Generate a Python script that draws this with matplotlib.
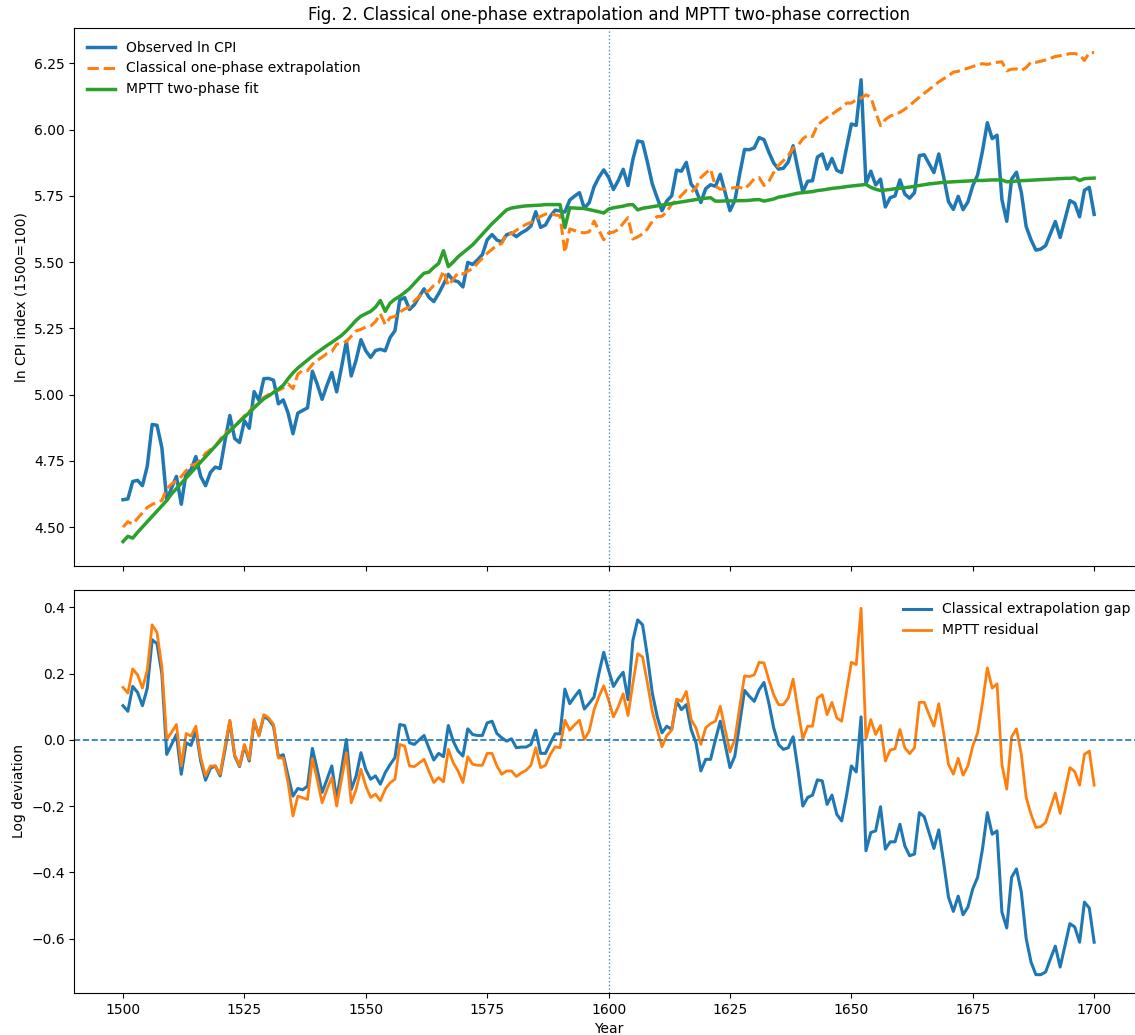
import numpy as np
import matplotlib
matplotlib.use("Agg")
import matplotlib.pyplot as plt

years = np.arange(1500, 1701)

# MPTT two-phase fit (ln CPI)
mptt_fit = [
    4.445, 4.465, 4.458, 4.48, 4.50, 4.52, 4.54, 4.56, 4.58, 4.60,
    4.625, 4.645, 4.665, 4.685, 4.705, 4.725, 4.745, 4.765, 4.785, 4.805,
    4.825, 4.845, 4.862, 4.88, 4.898, 4.915, 4.932, 4.95, 4.967, 4.984,
    4.995, 5.008, 5.02, 5.035, 5.06, 5.082, 5.10, 5.115, 5.13, 5.145,
    5.159, 5.172, 5.185, 5.197, 5.21, 5.223, 5.24, 5.26, 5.28, 5.296,
    5.305, 5.314, 5.33, 5.355, 5.314, 5.345, 5.36, 5.371, 5.385, 5.40,
    5.42, 5.44, 5.458, 5.462, 5.48, 5.495, 5.543, 5.483, 5.50, 5.52,
    5.535, 5.55, 5.565, 5.585, 5.605, 5.625, 5.645, 5.662, 5.68, 5.697,
    5.704, 5.707, 5.71, 5.712, 5.713, 5.714, 5.715, 5.717, 5.717, 5.717,
    5.717, 5.63, 5.705, 5.704, 5.703, 5.702, 5.698, 5.694, 5.69, 5.685,
    5.70, 5.705, 5.708, 5.711, 5.716, 5.717, 5.697, 5.703, 5.706, 5.709,
    5.712, 5.715, 5.718, 5.721, 5.724, 5.727, 5.73, 5.733, 5.736, 5.739,
    5.741, 5.743, 5.73, 5.73, 5.731, 5.731, 5.731, 5.732, 5.732, 5.733,
    5.735, 5.736, 5.73, 5.734, 5.738, 5.745, 5.748, 5.752, 5.756, 5.76,
    5.762, 5.764, 5.766, 5.77, 5.772, 5.775, 5.778, 5.78, 5.782, 5.785,
    5.787, 5.789, 5.791, 5.793, 5.782, 5.775, 5.77, 5.772, 5.774, 5.777,
    5.779, 5.781, 5.783, 5.786, 5.789, 5.792, 5.795, 5.797, 5.799, 5.801,
    5.802, 5.803, 5.804, 5.805, 5.806, 5.807, 5.808, 5.808, 5.809, 5.81,
    5.81, 5.81, 5.803, 5.804, 5.806, 5.807, 5.808, 5.809, 5.81, 5.811,
    5.812, 5.813, 5.814, 5.815, 5.816, 5.816, 5.818, 5.808, 5.815, 5.816,
    5.817,
]

# observed minus classical extrapolation (bottom panel, blue)
gap = [
    0.103, 0.086, 0.161, 0.143, 0.103, 0.156, 0.302, 0.290, 0.200, -0.044,
    -0.014, 0.016, -0.104, -0.009, -0.017, 0.029, -0.064, -0.122, -0.086, -0.079,
    -0.109, -0.030, 0.056, -0.049, -0.081, -0.019, -0.064, 0.056, 0.013, 0.071,
    0.061, 0.041, -0.051, -0.045, -0.11, -0.17, -0.147, -0.151, -0.14, -0.026,
    -0.09, -0.159, -0.12, -0.079, -0.18, -0.09, 0.001, -0.15, -0.11, -0.039,
    -0.09, -0.119, -0.109, -0.134, -0.099, -0.075, -0.054, 0.046, 0.043, -0.009,
    -0.014, 0.0, 0.013, -0.025, -0.061, -0.041, -0.051, 0.043, -0.004, -0.034,
    -0.049, 0.033, 0.016, 0.013, 0.013, 0.051, 0.056, 0.019, 0.006, -0.004,
    0.003, -0.024, -0.022, -0.022, -0.014, 0.029, -0.041, -0.041, -0.01, 0.018,
    0.018, 0.153, 0.109, 0.13, 0.149, 0.093, 0.11, 0.129, 0.20, 0.264,
    0.21, 0.161, 0.185, 0.204, 0.121, 0.30, 0.362, 0.347, 0.252, 0.141,
    0.071, 0.021, 0.041, 0.031, 0.116, 0.091, 0.106, 0.031, -0.009, -0.094,
    -0.059, -0.059, 0.0, 0.056, -0.014, -0.084, -0.049, 0.05, 0.149, 0.131,
    0.116, 0.151, 0.173, 0.111, 0.036, -0.014, -0.029, -0.024, 0.009, -0.09,
    -0.20, -0.174, -0.167, -0.121, -0.124, -0.195, -0.167, -0.225, -0.245, -0.169,
    -0.079, -0.097, 0.069, -0.335, -0.28, -0.275, -0.202, -0.33, -0.308, -0.308,
    -0.255, -0.32, -0.35, -0.345, -0.22, -0.232, -0.28, -0.328, -0.272, -0.37,
    -0.475, -0.518, -0.472, -0.528, -0.505, -0.45, -0.415, -0.33, -0.22, -0.285,
    -0.275, -0.52, -0.568, -0.415, -0.39, -0.46, -0.60, -0.671, -0.709, -0.709,
    -0.701, -0.661, -0.623, -0.686, -0.62, -0.555, -0.565, -0.611, -0.49, -0.508,
    -0.611,
]

# observed minus MPTT fit (bottom panel, orange)
resid = [
    0.158, 0.141, 0.214, 0.196, 0.156, 0.210, 0.347, 0.324, 0.22, 0.001,
    0.023, 0.046, -0.079, 0.019, 0.011, 0.041, -0.054, -0.109, -0.079, -0.079,
    -0.104, -0.02, 0.059, -0.046, -0.079, -0.014, -0.059, 0.061, 0.011, 0.076,
    0.066, 0.046, -0.055, -0.055, -0.13, -0.23, -0.17, -0.175, -0.18, -0.057,
    -0.12, -0.19, -0.15, -0.114, -0.20, -0.12, -0.039, -0.19, -0.15, -0.089,
    -0.14, -0.174, -0.164, -0.184, -0.149, -0.13, -0.119, -0.014, -0.019, -0.079,
    -0.081, -0.07, -0.059, -0.095, -0.129, -0.114, -0.127, -0.029, -0.069, -0.094,
    -0.129, -0.051, -0.074, -0.077, -0.077, -0.041, -0.041, -0.079, -0.104, -0.094,
    -0.094, -0.111, -0.10, -0.092, -0.077, -0.024, -0.084, -0.077, -0.044, -0.021,
    -0.024, 0.059, 0.029, 0.045, 0.059, 0.001, 0.026, 0.09, 0.13, 0.163,
    0.12, 0.069, 0.10, 0.139, 0.073, 0.17, 0.26, 0.25, 0.171, 0.086,
    0.031, -0.021, 0.013, 0.029, 0.123, 0.116, 0.146, 0.061, 0.036, -0.014,
    0.036, 0.049, 0.056, 0.101, 0.031, -0.037, 0.001, 0.10, 0.193, 0.191,
    0.196, 0.234, 0.232, 0.181, 0.136, 0.106, 0.106, 0.126, 0.183, 0.09,
    0.003, 0.041, 0.041, 0.126, 0.136, 0.076, 0.113, 0.066, 0.056, 0.146,
    0.234, 0.227, 0.397, 0.003, 0.061, 0.016, 0.043, -0.064, -0.031, -0.027,
    0.031, -0.024, -0.042, -0.024, 0.113, 0.113, 0.076, 0.041, 0.109, 0.021,
    -0.074, -0.104, -0.056, -0.107, -0.079, -0.019, 0.021, 0.111, 0.217, 0.156,
    0.169, -0.074, -0.149, 0.009, 0.033, -0.044, -0.174, -0.225, -0.265, -0.262,
    -0.25, -0.205, -0.161, -0.222, -0.154, -0.084, -0.096, -0.137, -0.044, -0.034,
    -0.137,
]

mptt_fit = np.array(mptt_fit)
gap = np.array(gap)
resid = np.array(resid)
observed = mptt_fit + resid
classical = observed - gap

fig = plt.figure(figsize=(11.35, 10.35), dpi=100)
ax1 = fig.add_axes([0.0656, 0.4531, 0.9412, 0.5198])
ax2 = fig.add_axes([0.0656, 0.0406, 0.9412, 0.3894], sharex=ax1)

ax1.plot(years, observed, color="#1f77b4", lw=2.5, label="Observed ln CPI")
ax1.plot(years, classical, color="#ff7f0e", lw=2.2, ls="--",
         label="Classical one-phase extrapolation")
ax1.plot(years, mptt_fit, color="#2ca02c", lw=2.5, label="MPTT two-phase fit")
ax1.axvline(1600, color="#1f77b4", ls=":", lw=1, alpha=0.8)
ax1.set_ylabel("ln CPI index (1500=100)")
ax1.set_title("Fig. 2. Classical one-phase extrapolation and MPTT two-phase correction",
              fontsize=12)
ax1.legend(loc="upper left", frameon=False)
ax1.tick_params(labelbottom=False)

ax2.plot(years, gap, color="#1f77b4", lw=2.2, label="Classical extrapolation gap")
ax2.plot(years, resid, color="#ff7f0e", lw=2.0, label="MPTT residual")
ax2.axhline(0, color="#1f77b4", ls="--", lw=1.2)
ax2.axvline(1600, color="#1f77b4", ls=":", lw=1, alpha=0.8)
ax2.set_ylabel("Log deviation")
ax2.set_xlabel("Year")
ax2.legend(loc="upper right", frameon=False)

fig.savefig("out.png", dpi=100)
